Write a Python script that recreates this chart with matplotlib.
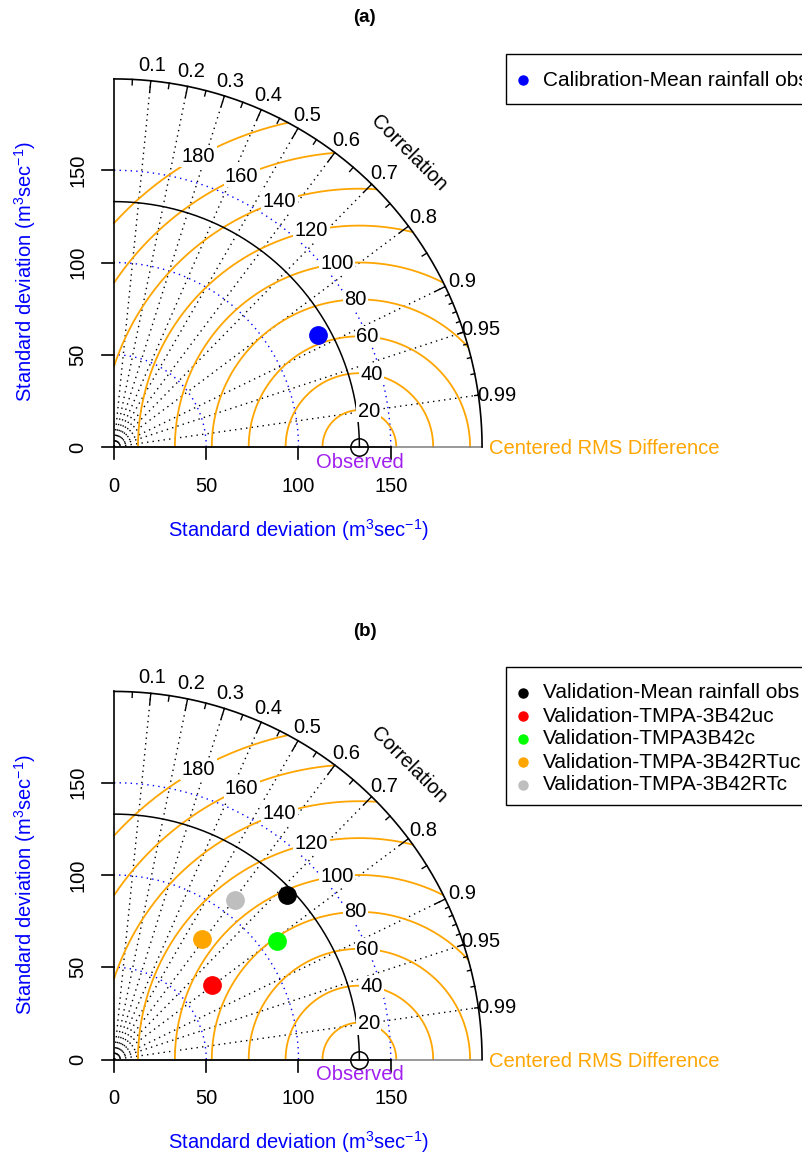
import numpy as np
import matplotlib
matplotlib.use("Agg")
import matplotlib.pyplot as plt
from matplotlib.patches import Rectangle
from matplotlib.lines import Line2D

plt.rcParams['font.family'] = ['Liberation Sans', 'DejaVu Sans']
plt.rcParams['mathtext.fontset'] = 'custom'
plt.rcParams['mathtext.rm'] = 'Liberation Sans'
plt.rcParams['mathtext.it'] = 'Liberation Sans:italic'

# observed (reference) standard deviation, m3/s
ref_sd = 133.0

# panel (a): calibration
cal_names = ['Calibration-Mean rainfall obs']
cal_sd = [126.3]
cal_cor = [0.877]
cal_cols = ['#0000FF']

# panel (b): validation
val_names = ['Validation-Mean rainfall obs', 'Validation-TMPA-3B42uc',
             'Validation-TMPA3B42c', 'Validation-TMPA-3B42RTuc',
             'Validation-TMPA-3B42RTc']
val_sd = [129.3, 66.7, 109.4, 80.7, 108.3]
val_cor = [0.726, 0.799, 0.809, 0.589, 0.605]
val_cols = ['#000000', '#FF0000', '#00FF00', '#FFA500', '#BEBEBE']

sd_ticks = [0, 50, 100, 150]
sd_arcs = [50, 100, 150]
cor_labels = [0.1, 0.2, 0.3, 0.4, 0.5, 0.6, 0.7, 0.8, 0.9, 0.95, 0.99]
gammas = [20, 40, 60, 80, 100, 120, 140, 160, 180]

W, H = 803, 1156
S = 1.845  # pixels per m3/s
FS = 14.5
DOT = (0, (1, 3))
ORANGE = '#FFA500'

fig = plt.figure(figsize=(W / 100, H / 100), dpi=100)


def px(x, y):
    # figure pixel (from top-left) -> figure fraction
    return x / W, 1 - y / H


def taylor(top, ox, oy, title, title_y, sds, cors, cols, names, leg_top, leg_rows):
    ax = fig.add_axes([0, 1 - (top + 578) / H, 1, 578 / H])
    ax.set_xlim(-ox / S, (W - ox) / S)
    ax.set_ylim(-(top + 578 - oy) / S, (oy - top) / S)
    ax.axis('off')

    maxsd = 1.5 * ref_sd
    th = np.linspace(0, np.pi / 2, 300)

    # sd grid arcs
    for r in sd_arcs:
        ax.plot(r * np.cos(th), r * np.sin(th), color='blue', ls=DOT, lw=1)

    # correlation rays
    for c in cor_labels:
        a = np.arccos(c)
        ax.plot([0, maxsd * np.cos(a)], [0, maxsd * np.sin(a)],
                color='black', ls=DOT, lw=1)

    # centered RMS arcs
    t = np.linspace(0, np.pi, 600)
    lab_ang = np.radians(np.linspace(75, 119, len(gammas)))
    for g, la in zip(gammas, lab_ang):
        x = ref_sd + g * np.cos(t)
        y = g * np.sin(t)
        ok = (x >= 0) & (x ** 2 + y ** 2 <= maxsd ** 2)
        ax.plot(np.where(ok, x, np.nan), np.where(ok, y, np.nan),
                color=ORANGE, lw=1.3)
        ax.text(ref_sd + g * np.cos(la), g * np.sin(la), str(g), fontsize=FS,
                ha='center', va='center', zorder=4,
                bbox=dict(facecolor='white', edgecolor='none', pad=1))

    # axes
    ax.plot([0, maxsd], [0, 0], color='#888888', lw=1.2)
    ax.plot([0, 150], [0, 0], color='black', lw=1.2)
    ax.plot([0, 0], [0, maxsd], color='black', lw=1.2)
    ax.plot(maxsd * np.cos(th), maxsd * np.sin(th), color='black', lw=1.2)
    ax.plot(ref_sd * np.cos(th), ref_sd * np.sin(th), color='black', lw=1.1)
    tk = 12 / S
    for v in sd_ticks:
        ax.plot([v, v], [0, -tk], color='black', lw=1.2)
        ax.plot([0, -tk], [v, v], color='black', lw=1.2)
        ax.text(v, -39 / S, str(v), fontsize=FS, ha='center', va='center')
        ax.text(-36 / S, v, str(v), fontsize=FS, ha='center', va='center',
                rotation=90)

    # ticks on correlation arc
    for c in np.arange(0.1, 0.91, 0.1):
        a = np.arccos(c)
        ax.plot([maxsd * np.cos(a), 0.97 * maxsd * np.cos(a)],
                [maxsd * np.sin(a), 0.97 * maxsd * np.sin(a)], color='black', lw=1)
    for c in np.arange(0.05, 0.96, 0.1):
        a = np.arccos(c)
        ax.plot([maxsd * np.cos(a), 0.985 * maxsd * np.cos(a)],
                [maxsd * np.sin(a), 0.985 * maxsd * np.sin(a)], color='black', lw=1)
    for c in np.arange(0.91, 0.995, 0.01):
        a = np.arccos(c)
        ax.plot([maxsd * np.cos(a), 0.99 * maxsd * np.cos(a)],
                [maxsd * np.sin(a), 0.99 * maxsd * np.sin(a)], color='black', lw=1)
    for c in cor_labels:
        a = np.arccos(c)
        ax.text(1.05 * maxsd * np.cos(a), 1.05 * maxsd * np.sin(a) - 1.5,
                str(c), fontsize=FS, ha='center', va='center')
    ax.text(0.8 * maxsd, 0.8 * maxsd, 'Correlation', fontsize=FS,
            ha='center', va='center', rotation=-45)

    # observed point
    ax.plot(ref_sd, 0, 'o', mfc='none', mec='black', ms=12.5, mew=1.1, zorder=5)
    ax.text(ref_sd, -15 / S, 'Observed', color='#A020F0', fontsize=FS,
            ha='center', va='center')
    ax.text(1.02 * maxsd, -2 / S, 'Centered RMS Difference', color=ORANGE,
            fontsize=FS, ha='left', va='center')

    # model points
    for sd, c, col in zip(sds, cors, cols):
        ax.plot(sd * c, sd * np.sqrt(1 - c ** 2), 'o', color=col, ms=12.5,
                zorder=6)

    lab = r'Standard deviation (m$^{\mathrm{3}}$sec$^{\mathrm{-1}}$)'
    ax.text(maxsd / 2, -45, lab, color='blue', fontsize=FS,
            ha='center', va='center')
    ax.text(-48, 95, lab, color='blue', fontsize=FS, ha='center',
            va='center', rotation=90)
    ax.text(136, (oy - title_y) / S, title, fontsize=13.5,
            fontweight='bold', ha='center', va='center')

    # legend
    x0, y0 = px(506, leg_top + leg_rows)
    x1, y1 = px(820, leg_top)
    fig.add_artist(Rectangle((x0, y0), x1 - x0, y1 - y0,
                             transform=fig.transFigure, facecolor='white',
                             edgecolor='black', lw=1))
    for i, (n, col) in enumerate(zip(names, cols)):
        yy = leg_top + 26 + 23 * i
        mx, my = px(523, yy)
        fig.add_artist(Line2D([mx], [my], marker='o', ms=6.5, color=col,
                              ls='none', transform=fig.transFigure))
        tx, ty = px(543, yy)
        fig.text(tx, ty, n, fontsize=15, ha='left', va='center')


taylor(0, 114, 447, '(a)', 18, cal_sd, cal_cor, cal_cols, cal_names, 54, 50)
taylor(578, 114, 1059.5, '(b)', 632, val_sd, val_cor, val_cols, val_names, 667, 138)

fig.savefig('out.png', dpi=100)
